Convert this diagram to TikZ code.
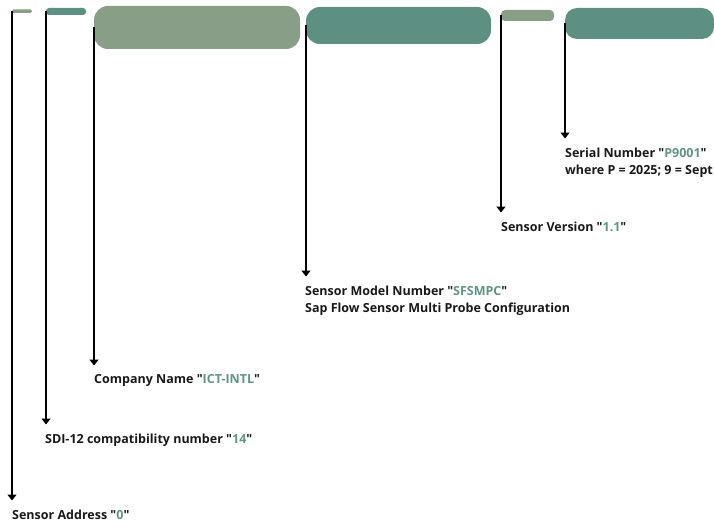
\documentclass[tikz,border=0pt]{standalone}
\usepackage{fontspec}
\setmainfont{Open Sans}[Ligatures=TeXOff]
\usepackage{xcolor}
\usetikzlibrary{arrows.meta}
\definecolor{sagegreen}{HTML}{889E86}
\definecolor{deepteal}{HTML}{5E8F83}
\definecolor{valteal}{HTML}{5F9486}
\newcommand{\val}[1]{"\textcolor{valteal}{#1}"}

\begin{document}
\begin{tikzpicture}[x=1pt, y=-1pt,
    pill/.style={anchor=north west, inner sep=0pt, outer sep=0pt},
    lead/.style={line width=1.8pt, shorten >=9pt, -{Triangle[width=9pt,length=6pt]}},
    desc/.style={anchor=north west, inner sep=0pt, align=left, text=black!90,
        font=\fontsize{12.5}{17.5}\selectfont\bfseries}]
        \useasboundingbox (0,0) rectangle (714,524);

        % Sensor address
        \node[pill, fill=sagegreen, rounded corners=1.5pt, minimum width=20pt, minimum height=3.5pt] (addr) at (12,9.5) {};
        \node[desc] (addrLbl) at (12,509.5) {Sensor Address \val{0}};

        % SDI-12 compatibility
        \node[pill, fill=deepteal, rounded corners=3pt, minimum width=40pt, minimum height=7pt] (sdi) at (46,8) {};
        \node[desc] (sdiLbl) at (45,433.5) {SDI-12 compatibility number \val{14}};

        % Company name
        \node[pill, fill=sagegreen, rounded corners=14pt, minimum width=206pt, minimum height=43pt] (comp) at (94,6) {};
        \node[desc] (compLbl) at (94,374.5) {Company Name \val{ICT-INTL}};

        % Model number
        \node[pill, fill=deepteal, rounded corners=14pt, minimum width=185pt, minimum height=37pt] (model) at (306,7) {};
        \node[desc] (modelLbl) at (305,285.5) {Sensor Model Number \val{SFSMPC}\\Sap Flow Sensor Multi Probe Configuration};

        % Version
        \node[pill, fill=sagegreen, rounded corners=4pt, minimum width=53pt, minimum height=11pt] (ver) at (501,10) {};
        \node[desc] (verLbl) at (501,221.5) {Sensor Version \val{1.1}};

        % Serial number
        \node[pill, fill=deepteal, rounded corners=12pt, minimum width=149pt, minimum height=31pt] (serial) at (565,8) {};
        \node[desc] (serialLbl) at (565,147.5) {Serial Number \val{P9001}\\where P = 2025; 9 = Sept};

        % Connections
        \draw[lead] (addr.west) -- (addr.west |- addrLbl.north);
        \draw[lead] (sdi.west) -- (sdi.west |- sdiLbl.north);
        \draw[lead] (comp.west) -- (comp.west |- compLbl.north);
        \draw[lead] (model.west) -- (model.west |- modelLbl.north);
        \draw[lead] (ver.west) -- (ver.west |- verLbl.north);
        \draw[lead] (serial.west) -- (serial.west |- serialLbl.north);
\end{tikzpicture}
\end{document}
